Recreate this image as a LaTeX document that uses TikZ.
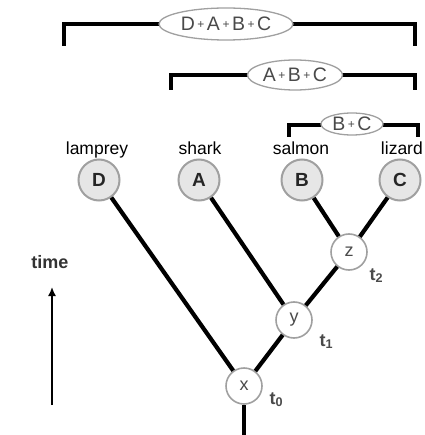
\documentclass[tikz,border=0pt]{standalone}
\usepackage{fontspec}
\setmainfont{Liberation Sans}
\usetikzlibrary{arrows.meta,shapes.geometric}
\definecolor{ringgray}{HTML}{A0A0A0}
\definecolor{leaffill}{HTML}{E6E6E6}
\definecolor{labelgray}{HTML}{4A4A4A}
\newcommand{\sep}{\raisebox{0.18ex}{\fontsize{12}{12}\selectfont\kern2.5pt+\kern2.5pt}}
\tikzset{
  leaf/.style={circle, draw=ringgray, line width=2pt, fill=leaffill,
    minimum size=41pt, inner sep=0pt, text=black!85,
    font=\fontsize{19}{19}\selectfont\bfseries},
  anc/.style={circle, draw=ringgray, line width=1.6pt, fill=white,
    minimum size=36pt, inner sep=0pt, text=labelgray,
    font=\fontsize{18}{18}\selectfont},
  branch/.style={line width=4.2pt, black},
  bracket/.style={line width=3.2pt, black},
  clade/.style={ellipse, draw=ringgray, line width=1.3pt, fill=white,
    inner sep=0pt, text=labelgray, font=\fontsize{19.5}{19.5}\selectfont},
  taxon/.style={anchor=base, font=\fontsize{17.5}{17.5}\selectfont, text=black},
  tick/.style={anchor=base west, text=labelgray,
    font=\fontsize{18}{18}\selectfont\bfseries},
}
\begin{document}
\begin{tikzpicture}[x=1pt, y=-1pt]
\useasboundingbox (0,0) rectangle (424,435);

% clade brackets
\draw[bracket] (64,46) -- (64,24) -- (415,24) -- (415,46);
\node[clade, minimum width=134pt, minimum height=32pt] (c1) at (226,24)
  {D\sep A\sep B\sep C};
\draw[bracket] (171,90) -- (171,75) -- (415,75) -- (415,90);
\node[clade, minimum width=95pt, minimum height=30pt] (c2) at (295,75)
  {A\sep B\sep C};
\draw[bracket] (289,137) -- (289,125) -- (418,125) -- (418,137);
\node[clade, minimum width=62pt, minimum height=22pt] (c3) at (352,124)
  {B\sep C};

% taxon names
\node[taxon] (nD) at (97,155) {lamprey};
\node[taxon] (nA) at (200,155) {shark};
\node[taxon] (nB) at (301,155) {salmon};
\node[taxon, anchor=base east, inner xsep=1pt] (nC) at (424,155) {lizard};

% tips
\node[leaf] (D) at (99,180) {D};
\node[leaf] (A) at (199,180) {A};
\node[leaf] (B) at (302,180) {B};
\node[leaf] (C) at (400,180) {C};

% ancestors
\node[anc] (z) at (349,252) {z};
\node[anc] (y) at (294,320) {y};
\node[anc] (x) at (244,386) {x};
\coordinate (root) at (244,435);

% branches
\draw[branch] (D) -- (x);
\draw[branch] (A) -- (y);
\draw[branch] (B) -- (z);
\draw[branch] (C) -- (z);
\draw[branch] (z) -- (y);
\draw[branch] (y) -- (x);
\draw[branch] (x) -- (root);

% divergence times
\node[tick] (t2) at (366,280) {t\textsubscript{2}};
\node[tick] (t1) at (316,346) {t\textsubscript{1}};
\node[tick] (t0) at (266,404) {t\textsubscript{0}};

% time axis
\node[anchor=base, font=\fontsize{18}{18}\selectfont\bfseries, text=black!80]
  (time) at (50,268) {time};
\coordinate (tlow) at (52,405);
\coordinate (thigh) at (52,287);
\draw[line width=1.6pt, -{Latex[length=9pt,width=8pt]}] (tlow) -- (thigh);
\end{tikzpicture}
\end{document}
